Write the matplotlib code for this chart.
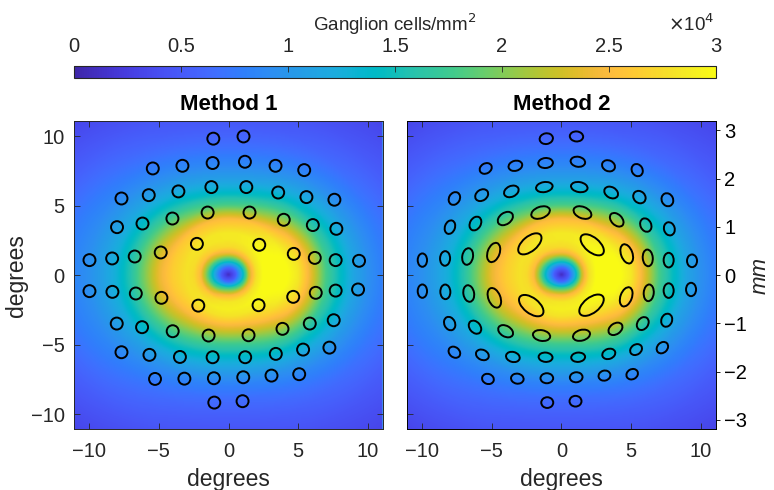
import numpy as np
import matplotlib
matplotlib.use("Agg")
import matplotlib.pyplot as plt
from matplotlib.colors import LinearSegmentedColormap
from matplotlib.patches import Ellipse

plt.rcParams['font.family'] = ['Liberation Sans', 'DejaVu Sans']
TXT = '#262626'

# parula (64 entries)
parula_rgb = [
    [0.2422, 0.1504, 0.6603], [0.2504, 0.1650, 0.7076], [0.2578, 0.1818, 0.7511], [0.2647, 0.1978, 0.7952],
    [0.2706, 0.2147, 0.8364], [0.2751, 0.2342, 0.8710], [0.2783, 0.2559, 0.8991], [0.2803, 0.2782, 0.9221],
    [0.2813, 0.3006, 0.9414], [0.2810, 0.3228, 0.9579], [0.2795, 0.3447, 0.9717], [0.2760, 0.3667, 0.9829],
    [0.2699, 0.3892, 0.9906], [0.2602, 0.4123, 0.9952], [0.2440, 0.4358, 0.9988], [0.2206, 0.4603, 0.9973],
    [0.1963, 0.4847, 0.9892], [0.1834, 0.5074, 0.9798], [0.1786, 0.5289, 0.9682], [0.1764, 0.5499, 0.9520],
    [0.1687, 0.5703, 0.9359], [0.1540, 0.5902, 0.9218], [0.1460, 0.6091, 0.9079], [0.1380, 0.6276, 0.8973],
    [0.1248, 0.6459, 0.8883], [0.1113, 0.6635, 0.8763], [0.0952, 0.6798, 0.8598], [0.0689, 0.6948, 0.8394],
    [0.0297, 0.7082, 0.8163], [0.0036, 0.7203, 0.7917], [0.0067, 0.7312, 0.7660], [0.0433, 0.7411, 0.7394],
    [0.0964, 0.7500, 0.7120], [0.1408, 0.7584, 0.6842], [0.1717, 0.7670, 0.6554], [0.1938, 0.7758, 0.6251],
    [0.2161, 0.7843, 0.5923], [0.2470, 0.7918, 0.5567], [0.2906, 0.7973, 0.5188], [0.3406, 0.8008, 0.4789],
    [0.3909, 0.8029, 0.4354], [0.4456, 0.8024, 0.3909], [0.5044, 0.7993, 0.3480], [0.5616, 0.7942, 0.3045],
    [0.6174, 0.7876, 0.2612], [0.6720, 0.7793, 0.2227], [0.7242, 0.7698, 0.1910], [0.7738, 0.7598, 0.1646],
    [0.8203, 0.7498, 0.1535], [0.8634, 0.7406, 0.1596], [0.9035, 0.7330, 0.1774], [0.9393, 0.7288, 0.2100],
    [0.9728, 0.7298, 0.2394], [0.9956, 0.7434, 0.2371], [0.9970, 0.7659, 0.2199], [0.9952, 0.7893, 0.2028],
    [0.9892, 0.8136, 0.1885], [0.9786, 0.8386, 0.1766], [0.9676, 0.8639, 0.1643], [0.9610, 0.8890, 0.1537],
    [0.9597, 0.9135, 0.1423], [0.9628, 0.9373, 0.1265], [0.9691, 0.9606, 0.1064], [0.9769, 0.9839, 0.0805]]
parula = LinearSegmentedColormap.from_list('parula', parula_rgb)

# density along the meridians (x10^4 cells/mm^2) vs eccentricity (deg)
ecc      = [0, 0.5, 1.0, 1.5, 2.0, 2.5, 3.0, 4.0, 5.0, 6.0, 7.0, 8.0, 9.0, 10.0, 11.0, 13.0, 16.0]
nasal    = [0.1, 0.5, 1.3, 2.3, 2.8, 3.0, 3.05, 3.05, 2.85, 2.35, 1.8, 1.45, 1.15, 0.95, 0.8, 0.6, 0.4]
temporal = [0.1, 0.5, 1.2, 1.9, 2.5, 2.75, 2.8, 2.65, 2.4, 2.0, 1.6, 1.3, 1.1, 0.95, 0.85, 0.65, 0.4]
superior = [0.1, 0.6, 1.6, 2.4, 2.75, 2.85, 2.85, 2.5, 1.8, 1.35, 1.05, 0.85, 0.7, 0.58, 0.48, 0.35, 0.2]
inferior = [0.1, 0.6, 1.8, 2.5, 2.85, 2.9, 2.8, 2.3, 1.75, 1.35, 1.05, 0.8, 0.65, 0.55, 0.47, 0.35, 0.2]

# receptive field centres (deg)
cx = [-1.09, 1.08,
      -5.44, -3.31, -1.14, 1.18, 3.38, 5.44,
      -7.69, -5.73, -3.60, -1.23, 1.28, 3.57, 5.60, 7.61,
      -8.01, -6.18, -4.03, -1.50, 1.51, 3.97, 6.06, 7.75,
      -9.99, -8.36, -6.74, -4.87, -2.27, 2.21, 4.69, 6.20, 7.70, 9.38,
      -9.99, -8.34, -6.66, -4.82, -2.17, 2.16, 4.65, 6.27, 7.70, 9.31,
      -8.03, -6.21, -4.01, -1.43, 1.44, 3.88, 5.84, 7.56,
      -7.69, -5.68, -3.49, -1.14, 1.20, 3.40, 5.36, 7.25,
      -5.28, -3.17, -1.05, 1.06, 3.09, 5.08,
      -1.02, 1.01]
cy = [9.81, 9.97,
      7.67, 7.86, 8.06, 8.15, 7.86, 7.55,
      5.51, 5.75, 6.02, 6.33, 6.33, 5.94, 5.61, 5.42,
      3.45, 3.71, 4.07, 4.50, 4.50, 3.98, 3.60, 3.33,
      1.08, 1.20, 1.34, 1.63, 2.25, 2.18, 1.53, 1.24, 1.08, 1.03,
      -1.15, -1.20, -1.32, -1.63, -2.19, -2.16, -1.56, -1.27, -1.11, -1.03,
      -3.48, -3.74, -4.03, -4.34, -4.32, -3.86, -3.48, -3.24,
      -5.54, -5.73, -5.88, -5.90, -5.90, -5.66, -5.35, -5.21,
      -7.46, -7.44, -7.41, -7.34, -7.22, -7.12,
      -9.16, -9.06]
m1_diam = 0.86

# method 2 ellipse axes (deg) and angle (deg)
m2_w = [0.96, 0.96,
        0.91, 1.00, 1.05, 1.05, 0.96, 0.91,
        0.96, 1.00, 1.10, 1.20, 1.20, 1.05, 0.96, 0.96,
        1.00, 1.05, 1.20, 1.39, 1.34, 1.15, 1.00, 0.96,
        0.96, 1.05, 1.20, 1.44, 2.00, 2.00, 1.44, 1.20, 1.05, 0.91,
        0.96, 1.05, 1.20, 1.48, 2.06, 2.06, 1.44, 1.20, 1.05, 0.96,
        1.00, 1.05, 1.15, 1.25, 1.25, 1.10, 1.00, 0.96,
        0.91, 0.96, 1.00, 1.00, 1.00, 0.96, 0.91, 0.91,
        0.86, 0.91, 0.91, 0.91, 0.86, 0.86,
        0.86, 0.86]
m2_h = [0.77, 0.72,
        0.72, 0.72, 0.72, 0.72, 0.77, 0.77,
        0.77, 0.77, 0.77, 0.72, 0.72, 0.77, 0.82, 0.82,
        0.72, 0.77, 0.82, 0.82, 0.82, 0.77, 0.77, 0.77,
        0.67, 0.72, 0.77, 0.86, 1.05, 1.05, 0.82, 0.72, 0.72, 0.72,
        0.67, 0.72, 0.77, 0.86, 1.10, 1.10, 0.82, 0.72, 0.72, 0.72,
        0.77, 0.77, 0.77, 0.77, 0.77, 0.77, 0.77, 0.77,
        0.72, 0.72, 0.72, 0.67, 0.67, 0.72, 0.72, 0.72,
        0.72, 0.72, 0.72, 0.72, 0.72, 0.72,
        0.77, 0.77]
m2_ang = [10, -5,
          30, 15, 5, -10, -25, -60,
          60, 35, 25, 10, -10, -30, -45, -65,
          70, 60, 35, 20, -22, -45, -65, -75,
          90, 88, 80, 70, 40, -40, -70, -85, 90, 90,
          90, -88, -80, -68, -38, 38, 70, 85, 90, 90,
          -65, -50, -30, -10, 15, 35, 55, 70,
          -40, -25, -15, -5, 5, 20, 35, 45,
          -20, -10, 0, 5, 15, 30,
          0, 0]

deg_per_mm = 3.47
lim = 11.08

# density grid
g = np.linspace(-lim, lim, 400)
X, Y = np.meshgrid(g, g)
R = np.hypot(X, Y)
c2 = np.where(R > 0, (X / np.where(R > 0, R, 1)) ** 2, 0.5)
dh = np.where(X >= 0, np.interp(R, ecc, nasal), np.interp(R, ecc, temporal))
dv = np.where(Y >= 0, np.interp(R, ecc, superior), np.interp(R, ecc, inferior))
D = (c2 * dh + (1 - c2) * dv) * 1e4

W, H = 774, 490
fig = plt.figure(figsize=(W / 100, H / 100), dpi=100)


def px(x0, y0, x1, y1):
    return [x0 / W, 1 - y1 / H, (x1 - x0) / W, (y1 - y0) / H]


ax1 = fig.add_axes(px(74.3, 121, 382.7, 429.3))
ax2 = fig.add_axes(px(407.2, 121, 715.7, 429.3))
cax = fig.add_axes(px(74.3, 65.7, 715.7, 78.3))

for k, ax in enumerate([ax1, ax2]):
    im = ax.imshow(D, origin='lower', extent=[-lim, lim, -lim, lim], cmap=parula,
                   vmin=0, vmax=3e4, interpolation='bilinear', aspect='auto')
    ax.set_xlim(-lim, lim)
    ax.set_ylim(-lim, lim)
    ax.set_xticks([-10, -5, 0, 5, 10])
    ax.set_yticks([-10, -5, 0, 5, 10])
    ax.tick_params(direction='in', length=4, width=0.6, colors=TXT, labelsize=14.5,
                   top=True, right=(k == 0), pad=7)
    ax.tick_params(axis='x', pad=9)
    for s in ax.spines.values():
        s.set_color(TXT if k == 0 else 'black')
        s.set_linewidth(0.7)
    ax.set_xlabel('degrees', fontsize=16.5, color=TXT, labelpad=5)
    ax.set_title('Method %d' % (k + 1), fontsize=16, fontweight='bold', pad=8)
    for i in range(len(cx)):
        if k == 0:
            e = Ellipse((cx[i], cy[i]), m1_diam, m1_diam)
        else:
            e = Ellipse((cx[i], cy[i]), m2_w[i], m2_h[i], angle=m2_ang[i])
        e.set_fill(False)
        e.set_edgecolor('black')
        e.set_linewidth(1.4)
        ax.add_patch(e)

# thin light edge seen on the right of the first map
ax1.axvline(lim, color='#3f86f2', lw=2.2, zorder=1.5)

ax1.set_ylabel('degrees', fontsize=16.5, color=TXT, labelpad=2)
ax2.tick_params(labelleft=False)

axm = ax2.twinx()
axm.set_ylim(-lim / deg_per_mm, lim / deg_per_mm)
axm.set_yticks([-3, -2, -1, 0, 1, 2, 3])
axm.tick_params(direction='out', length=3, width=0.6, labelsize=14.5, colors='black', pad=3)
axm.set_ylabel('mm', fontsize=16, style='italic', color=TXT, labelpad=2)
for s in axm.spines.values():
    s.set_visible(False)

cb = fig.colorbar(im, cax=cax, orientation='horizontal')
cb.set_ticks([0, 5000, 10000, 15000, 20000, 25000, 30000])
cb.set_ticklabels(['0', '0.5', '1', '1.5', '2', '2.5', '3'])
cax.xaxis.set_ticks_position('top')
cax.tick_params(direction='in', length=4, width=0.6, colors=TXT, labelsize=14.5, pad=7)
cb.outline.set_edgecolor(TXT)
cb.outline.set_linewidth(0.8)

fig.text(395 / W, 1 - 24 / H, 'Ganglion cells/mm$^2$', ha='center', va='center', fontsize=13.5, color=TXT)
fig.text(714 / W, 1 - 24 / H, r'$\times$10$^4$', ha='right', va='center', fontsize=13.5, color=TXT)

fig.savefig('out.png', dpi=100)
